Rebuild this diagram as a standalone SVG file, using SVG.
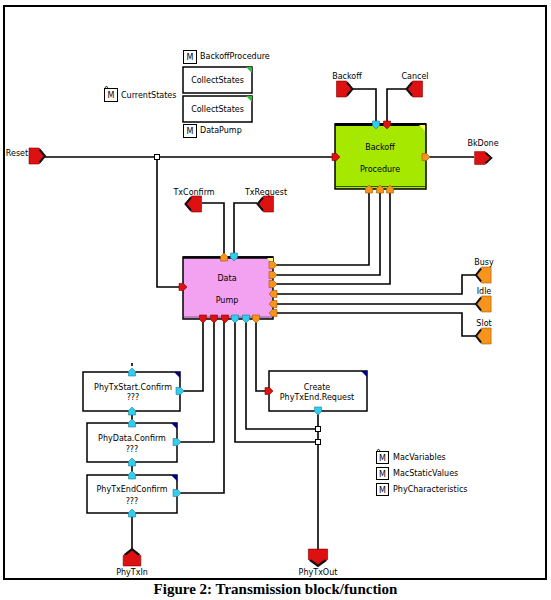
<svg xmlns="http://www.w3.org/2000/svg" xmlns:xlink="http://www.w3.org/1999/xlink" width="551" height="600" viewBox="0 0 551 600">
<style>
.lbl{font-family:"DejaVu Sans",sans-serif;font-size:8px;text-anchor:middle;fill:#000}
.lbl-l{font-family:"DejaVu Sans",sans-serif;font-size:8px;fill:#000}
.wire{fill:none;stroke:#000;stroke-width:1.6}
.box{fill:#fff;stroke:#000;stroke-width:1.5}
.mbox{fill:#fff;stroke:#000;stroke-width:1}
.red{fill:#dd1111;stroke:#8a0000;stroke-width:0.6}
.cyan{fill:#33ccee;stroke:#1a7f99;stroke-width:0.6}
.orange{fill:#f7941d;stroke:#a05a00;stroke-width:0.6}
.jn{fill:#fff;stroke:#000;stroke-width:1}
.cap{font-family:"Liberation Serif",serif;font-size:15px;font-weight:bold;text-anchor:middle}
</style>
<defs>
<polygon id="sp" points="-4,-3.5 0.5,-3.5 4,0 0.5,3.5 -4,3.5"/>
<g id="bp"><polygon points="-8,-8 2,-8 8,0 2,8 -8,8"/><polyline points="2.5,-6.5 8,0 2.5,6.5" fill="none" stroke="#111" stroke-width="2"/></g>
</defs>
<rect x="0" y="0" width="551" height="600" fill="#fff"/>
<rect x="4" y="6" width="542" height="573" fill="none" stroke="#000" stroke-width="2"/>

<g id="connectors">
<path class="wire" d="M45,157 H335"/>
<path class="wire" d="M157,157 V287 H183"/>
<path class="wire" d="M353,89 H376 V124"/>
<path class="wire" d="M406,89 H387 V124"/>
<path class="wire" d="M426,157 H474"/>
<path class="wire" d="M202,203 H224 V257"/>
<path class="wire" d="M257,203 H234 V257"/>
<path class="wire" d="M273,265 H369 V189"/>
<path class="wire" d="M273,275 H380 V189"/>
<path class="wire" d="M273,284 H390 V189"/>
<path class="wire" d="M273,294 H462 V275 H476"/>
<path class="wire" d="M273,304 H476"/>
<path class="wire" d="M273,313 H462 V336 H476"/>
<path class="wire" d="M203,319 V391 H180"/>
<path class="wire" d="M214,319 V442 H177"/>
<path class="wire" d="M224,319 V493 H177"/>
<path class="wire" d="M235,319 V442 H318"/>
<path class="wire" d="M246,319 V429 H318"/>
<path class="wire" d="M256,319 V391 H269"/>
<path class="wire" d="M318,411 V549"/>
<path class="wire" d="M132,549 V513"/>
<path class="wire" d="M132,411 V423"/>
<path class="wire" d="M132,462 V475"/>
<path class="wire" d="M132,363 V366" stroke-width="1.2"/>
<rect class="jn" x="154.5" y="154.5" width="5" height="5"/>
<rect class="jn" x="315.5" y="426.5" width="5" height="5"/>
<rect class="jn" x="315.5" y="439.5" width="5" height="5"/>
</g>

<g id="m-backoffprocedure">
<rect class="mbox" x="183.5" y="50.5" width="13" height="13"/>
<text class="lbl" x="190" y="60">M</text>
<text class="lbl-l" x="200" y="59">BackoffProcedure</text>
</g>
<g id="collectstates-1">
<rect class="box" x="183" y="67" width="69" height="26" stroke-width="1.2"/>
<polygon points="246,67 252,67 252,73" fill="#33bb33"/>
<text class="lbl" x="217.5" y="83">CollectStates</text>
</g>
<g id="collectstates-2">
<rect class="box" x="183" y="96" width="69" height="26" stroke-width="1.2"/>
<polygon points="246,96 252,96 252,102" fill="#33bb33"/>
<text class="lbl" x="217.5" y="112">CollectStates</text>
</g>
<g id="m-datapump">
<rect class="mbox" x="183.5" y="124.5" width="13" height="13"/>
<text class="lbl" x="190" y="134">M</text>
<text class="lbl-l" x="200" y="133">DataPump</text>
</g>
<g id="m-currentstates">
<rect class="mbox" x="104.5" y="88.5" width="13" height="13"/>
<polyline points="105,88 106.5,86 108,88" fill="none" stroke="#000" stroke-width="0.8"/>
<text class="lbl" x="111" y="98">M</text>
<text class="lbl-l" x="121" y="98">CurrentStates</text>
</g>

<g id="port-reset">
<use xlink:href="#bp" class="red" transform="translate(37,156)"/>
<text class="lbl" x="17" y="156">Reset</text>
</g>
<g id="port-backoff">
<use xlink:href="#bp" class="red" transform="translate(344.5,89)"/>
<text class="lbl" x="347" y="79">Backoff</text>
</g>
<g id="port-cancel">
<use xlink:href="#bp" class="red" transform="translate(414.5,89) rotate(180)"/>
<text class="lbl" x="415" y="79">Cancel</text>
</g>
<g id="port-bkdone">
<use xlink:href="#bp" class="red" transform="translate(483,158) scale(1.05,0.8)"/>
<text class="lbl" x="483" y="146">BkDone</text>
</g>

<g id="backoff-procedure">
<rect x="335" y="124" width="91" height="65" fill="#a6e800" stroke="#000" stroke-width="1.5"/>
<line x1="335" y1="124.5" x2="426" y2="124.5" stroke="#000" stroke-width="3"/>
<line x1="336" y1="186.5" x2="425" y2="186.5" stroke="#335500" stroke-width="1"/>
<polygon points="419,125 425,125 425,131" fill="#ffff66"/>
<text class="lbl" x="380" y="150">Backoff</text>
<text class="lbl" x="380" y="172">Procedure</text>
<use xlink:href="#sp" class="cyan" transform="translate(376,125) rotate(90)"/>
<use xlink:href="#sp" class="red" transform="translate(387,125) rotate(90)"/>
<use xlink:href="#sp" class="red" transform="translate(336,157)"/>
<use xlink:href="#sp" class="orange" transform="translate(426,157)"/>
<use xlink:href="#sp" class="orange" transform="translate(369,189) rotate(-90)"/>
<use xlink:href="#sp" class="orange" transform="translate(380,189) rotate(-90)"/>
<use xlink:href="#sp" class="orange" transform="translate(390,189) rotate(-90)"/>
</g>

<g id="port-txconfirm">
<use xlink:href="#bp" class="red" transform="translate(193.5,204) rotate(180)"/>
<text class="lbl" x="194" y="195">TxConfirm</text>
</g>
<g id="port-txrequest">
<use xlink:href="#bp" class="red" transform="translate(265.5,204) rotate(180)"/>
<text class="lbl" x="266" y="195">TxRequest</text>
</g>

<g id="data-pump">
<rect x="183" y="257" width="90" height="62" fill="#f2a2f0" stroke="#000" stroke-width="1.5"/>
<line x1="183" y1="257.5" x2="273" y2="257.5" stroke="#000" stroke-width="2.5"/>
<line x1="184" y1="317" x2="272" y2="317" stroke="#806080" stroke-width="1"/>
<polygon points="267,258 273,258 273,264" fill="#ffff66"/>
<text class="lbl" x="227" y="281">Data</text>
<text class="lbl" x="227" y="303">Pump</text>
<use xlink:href="#sp" class="orange" transform="translate(224,257) rotate(-90)"/>
<use xlink:href="#sp" class="cyan" transform="translate(234,257) rotate(90)"/>
<use xlink:href="#sp" class="red" transform="translate(183,287)"/>
<use xlink:href="#sp" class="orange" transform="translate(273,265)"/>
<use xlink:href="#sp" class="orange" transform="translate(273,275)"/>
<use xlink:href="#sp" class="orange" transform="translate(273,284)"/>
<use xlink:href="#sp" class="orange" transform="translate(273,294) rotate(180)"/>
<use xlink:href="#sp" class="orange" transform="translate(273,304) rotate(180)"/>
<use xlink:href="#sp" class="orange" transform="translate(273,313) rotate(180)"/>
<use xlink:href="#sp" class="red" transform="translate(203,319) rotate(90)"/>
<use xlink:href="#sp" class="red" transform="translate(214,319) rotate(90)"/>
<use xlink:href="#sp" class="red" transform="translate(225,319) rotate(90)"/>
<use xlink:href="#sp" class="cyan" transform="translate(235,319) rotate(90)"/>
<use xlink:href="#sp" class="cyan" transform="translate(246,319) rotate(90)"/>
<use xlink:href="#sp" class="orange" transform="translate(256,319) rotate(90)"/>
</g>

<g id="port-busy">
<use xlink:href="#bp" class="orange" transform="translate(483.5,275) rotate(180) scale(0.95,1)"/>
<text class="lbl" x="484" y="265">Busy</text>
</g>
<g id="port-idle">
<use xlink:href="#bp" class="orange" transform="translate(483.5,304) rotate(180) scale(0.95,1)"/>
<text class="lbl" x="484" y="294">Idle</text>
</g>
<g id="port-slot">
<use xlink:href="#bp" class="orange" transform="translate(483.5,336) rotate(180) scale(0.95,1)"/>
<text class="lbl" x="484" y="326">Slot</text>
</g>

<g id="phytxstart-confirm">
<rect class="box" x="83" y="372" width="97" height="39"/>
<polygon points="174,372 180,372 180,378" fill="#000080"/>
<text class="lbl" x="133" y="390">PhyTxStart.Confirm</text>
<text class="lbl" x="133" y="400">???</text>
<use xlink:href="#sp" class="cyan" transform="translate(132,372) rotate(-90)"/>
<use xlink:href="#sp" class="cyan" transform="translate(132,411) rotate(-90)"/>
<use xlink:href="#sp" class="cyan" transform="translate(180,391)"/>
</g>
<g id="phydata-confirm">
<rect class="box" x="87" y="423" width="90" height="39"/>
<polygon points="171,423 177,423 177,429" fill="#000080"/>
<text class="lbl" x="132" y="441">PhyData.Confirm</text>
<text class="lbl" x="132" y="452">???</text>
<use xlink:href="#sp" class="cyan" transform="translate(132,423) rotate(-90)"/>
<use xlink:href="#sp" class="cyan" transform="translate(132,462) rotate(-90)"/>
<use xlink:href="#sp" class="cyan" transform="translate(177,442)"/>
</g>
<g id="phytxend-confirm">
<rect class="box" x="87" y="475" width="90" height="38"/>
<polygon points="171,475 177,475 177,481" fill="#000080"/>
<text class="lbl" x="132" y="492">PhyTxEndConfirm</text>
<text class="lbl" x="132" y="504">???</text>
<use xlink:href="#sp" class="cyan" transform="translate(132,475) rotate(-90)"/>
<use xlink:href="#sp" class="cyan" transform="translate(132,513) rotate(-90)"/>
<use xlink:href="#sp" class="cyan" transform="translate(177,493)"/>
</g>

<g id="create-phytxend-request">
<rect class="box" x="269" y="371" width="98" height="40"/>
<polygon points="361,371 367,371 367,377" fill="#000080"/>
<text class="lbl" x="317" y="390">Create</text>
<text class="lbl" x="317" y="400">PhyTxEnd.Request</text>
<use xlink:href="#sp" class="red" transform="translate(269,391)"/>
<use xlink:href="#sp" class="cyan" transform="translate(318,411) rotate(90)"/>
</g>

<g id="port-phytxin">
<use xlink:href="#bp" class="red" transform="translate(132,557.5) rotate(-90) scale(1.05,1.1)"/>
<text class="lbl" x="132" y="575">PhyTxIn</text>
</g>
<g id="port-phytxout">
<use xlink:href="#bp" class="red" transform="translate(318,557.5) rotate(90) scale(1.05,1.2)"/>
<text class="lbl" x="318" y="575">PhyTxOut</text>
</g>

<g id="m-macvariables">
<rect class="mbox" x="376.5" y="451.5" width="12" height="12"/>
<polyline points="377,451 378.5,449 380,451" fill="none" stroke="#000" stroke-width="0.8"/>
<text class="lbl" x="382.5" y="461">M</text>
<text class="lbl-l" x="393" y="460">MacVariables</text>
</g>
<g id="m-macstaticvalues">
<rect class="mbox" x="376.5" y="467.5" width="12" height="12"/>
<text class="lbl" x="382.5" y="477">M</text>
<text class="lbl-l" x="393" y="476">MacStaticValues</text>
</g>
<g id="m-phycharacteristics">
<rect class="mbox" x="376.5" y="483.5" width="12" height="12"/>
<text class="lbl" x="382.5" y="493">M</text>
<text class="lbl-l" x="393" y="492">PhyCharacteristics</text>
</g>

<text class="cap" x="275.5" y="594">Figure 2: Transmission block/function</text>
</svg>
